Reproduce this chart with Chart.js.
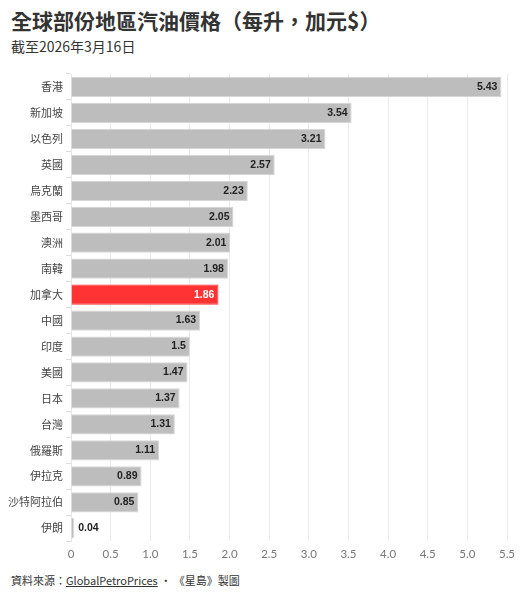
<!DOCTYPE html>
<html>
<head>
<meta charset="utf-8">
<script src="https://cdn.jsdelivr.net/npm/chart.js@4.4.1/dist/chart.umd.min.js"></script>
<style>
  body { margin: 0; background: #fff; font-family: Lato, "Noto Sans CJK TC", sans-serif; }
  #wrap { position: relative; width: 524px; height: 599px; }
  #title { position: absolute; left: 11px; top: 5px; font-size: 21px; font-weight: bold; color: #333; font-family: "Noto Sans CJK TC", sans-serif; }
  #sub { position: absolute; left: 11px; top: 36px; font-size: 14px; color: #333; font-family: "Noto Sans CJK TC", sans-serif; }
  #box { position: absolute; left: 0; top: 62px; width: 524px; height: 505px; }
  #foot { position: absolute; left: 11px; top: 572px; font-size: 11px; color: #333; font-family: "Noto Sans CJK TC", sans-serif; }
  #foot u { color: #333; }
</style>
</head>
<body>
<div id="wrap">
  <div id="title">全球部份地區汽油價格（每升，加元$）</div>
  <div id="sub">截至2026年3月16日</div>
  <div id="box"><canvas id="chartGas"></canvas></div>
  <div id="foot">資料來源：<u>GlobalPetroPrices</u> • 《星島》製圖</div>
</div>
<script>
var countries = ['香港','新加坡','以色列','英國','烏克蘭','墨西哥','澳洲','南韓','加拿大','中國','印度','美國','日本','台灣','俄羅斯','伊拉克','沙特阿拉伯','伊朗'];
var prices = [5.43, 3.54, 3.21, 2.57, 2.23, 2.05, 2.01, 1.98, 1.86, 1.63, 1.5, 1.47, 1.37, 1.31, 1.11, 0.89, 0.85, 0.04];
var xTicks = [0, 0.5, 1, 1.5, 2, 2.5, 3, 3.5, 4, 4.5, 5, 5.5];
var highlight = '加拿大';

var barColors = countries.map(function(c) { return c == highlight ? '#ff3333' : '#bdbdbd'; });
var borderColors = countries.map(function(c) { return c == highlight ? '#ff3333' : '#d6d6d6'; });

// draws the value at the end of each bar
var valueLabels = {
    id: 'valueLabels',
    afterDatasetsDraw: function(chart) {
        var ctx = chart.ctx;
        var meta = chart.getDatasetMeta(0);
        ctx.save();
        ctx.font = 'bold 10.5px "Liberation Sans", Arial, sans-serif';
        ctx.textBaseline = 'middle';
        meta.data.forEach(function(bar, i) {
            var txt = String(prices[i]);
            var w = bar.x - bar.base;
            if (w < ctx.measureText(txt).width + 8) {
                ctx.textAlign = 'left';
                ctx.fillStyle = '#222';
                ctx.fillText(txt, bar.x + 4, bar.y);
            } else {
                ctx.textAlign = 'right';
                ctx.fillStyle = countries[i] == highlight ? '#fff' : '#222';
                ctx.fillText(txt, bar.x - 4, bar.y);
            }
        });
        ctx.restore();
    }
};

var ctxChartGas = document.getElementById("chartGas");
var chartGas = new Chart(ctxChartGas, {
    type: 'bar',
    data: {
        labels: countries,
        datasets: [
            {
                label: '汽油價格',
                data: prices,
                backgroundColor: barColors,
                borderColor: borderColors,
                borderWidth: 1,
                categoryPercentage: 1,
                barPercentage: 0.78
            }
        ]
    },
    options: {
        indexAxis: 'y',
        responsive: true,
        maintainAspectRatio: false,
        animation: false,
        layout: { padding: { top: 12, right: 17, left: 0, bottom: 0 } },
        plugins: {
            legend: { display: false },
            tooltip: { enabled: false }
        },
        scales: {
            x: {
                min: 0,
                max: 5.5,
                afterBuildTicks: function(scale) {
                    scale.ticks = xTicks.map(function(v) { return { value: v }; });
                },
                grid: { color: '#ebebeb', drawTicks: false },
                border: { display: false },
                ticks: {
                    color: '#777',
                    padding: 6,
                    font: { size: 11.5, family: 'Lato, sans-serif' }
                }
            },
            y: {
                afterFit: function(scale) { scale.width = 71; },
                grid: { drawOnChartArea: false, color: '#dddddd', tickLength: 5 },
                border: { color: '#e5e5e5' },
                ticks: {
                    color: '#444',
                    padding: 3,
                    font: { size: 11, family: '"Noto Sans CJK TC", sans-serif' }
                }
            }
        }
    },
    plugins: [valueLabels]
});
</script>
</body>
</html>
